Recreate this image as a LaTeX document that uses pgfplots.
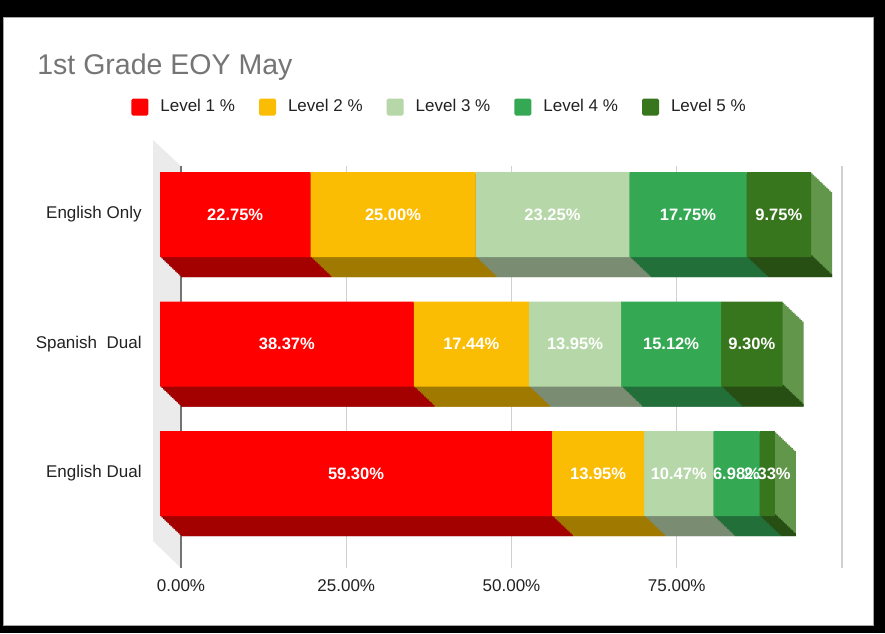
\documentclass[border=0pt]{standalone}
\usepackage{fontspec}
\setmainfont{Liberation Sans}
\usepackage{pgfplots}
\usepackage{pgfplotstable}
\pgfplotsset{compat=1.18}

\definecolor{cA}{HTML}{FF0000}
\definecolor{cB}{HTML}{FBBC04}
\definecolor{cC}{HTML}{B6D7A8}
\definecolor{cD}{HTML}{34A853}
\definecolor{cE}{HTML}{38761D}
\definecolor{dA}{HTML}{A30000}
\definecolor{dB}{HTML}{A07900}
\definecolor{dC}{HTML}{7A8C72}
\definecolor{dD}{HTML}{236F3A}
\definecolor{dE}{HTML}{274E13}
\definecolor{sE}{HTML}{62964A}
\definecolor{titlegray}{HTML}{757575}
\definecolor{txt}{HTML}{222222}
\definecolor{wall}{HTML}{EBEBEB}

% rows: 0 = English Dual, 1 = Spanish Dual, 2 = English Only
\pgfplotstableread{
pos l1 l2 l3 l4 l5
0 59.30 13.95 10.47 6.98 2.33
1 38.37 17.44 13.95 15.12 9.30
2 22.75 25.00 23.25 17.75 9.75
}\levels

\pgfplotsset{
  barbase/.style={
    scale only axis, width=330.5pt, height=194.25pt,
    xmin=0, xmax=100, ymin=-0.5, ymax=2.5,
    xbar stacked, bar width=42.5pt, anchor=south west,
  },
  depthaxis/.style={barbase, hide axis},
}

\begin{document}
\begin{tikzpicture}
% frame
\fill[black] (0,0) rectangle (442.5pt,-316.5pt);
\filldraw[fill=white, draw=gray!70, line width=0.5pt] (1.5pt,-8.5pt) rectangle (436.5pt,-312.5pt);
% title
\node[anchor=base west, inner sep=0pt, text=titlegray, font=\fontsize{14.25}{16}\selectfont] at (18.5pt,-37pt) {1st Grade EOY May};
% wall
\fill[wall] (76.5pt,-70pt) -- (90.5pt,-83pt) -- (90.5pt,-284pt) -- (76.5pt,-270.5pt) -- cycle;

% grid (back plane)
\begin{axis}[scale only axis, width=330.5pt, height=201pt, at={(90.5pt,-284pt)}, anchor=south west,
  xmin=0, xmax=100, ymin=0, ymax=1,
  axis line style={draw=none}, major tick length=0pt,
  ytick=\empty, xtick={25,50,75,100},
  xticklabels={25.00\%,50.00\%,75.00\%,{}},
  extra x ticks={0}, extra x tick labels={0.00\%},
  xmajorgrids, grid style={draw=black!18, line width=0.6pt},
  extra x tick style={grid style={draw=black!55, line width=0.8pt}},
  xticklabel style={font=\fontsize{8.5}{10}\selectfont, text=txt, anchor=north, inner sep=0pt, yshift=-5.5pt},
]
\end{axis}

% depth: side/bottom sweep
\foreach \k in {14,13,...,1}{
  \begin{axis}[depthaxis, at={({(80+0.75*\k)*1pt},{(-269.125-0.71429*\k)*1pt})}]
    \addplot[fill=dA, draw=none] table[x=l1,y=pos]{\levels};
    \addplot[fill=dB, draw=none] table[x=l2,y=pos]{\levels};
    \addplot[fill=dC, draw=none] table[x=l3,y=pos]{\levels};
    \addplot[fill=dD, draw=none] table[x=l4,y=pos]{\levels};
    \addplot[fill=sE, draw=none] table[x=l5,y=pos]{\levels};
  \end{axis}
}
% depth: bottom faces
\foreach \k in {14,13,...,1}{
  \begin{axis}[depthaxis, at={({(80+0.75*\k)*1pt},{(-269.125-0.71429*\k)*1pt})}]
    \addplot[fill=dA, draw=none, bar width=1.5pt, bar shift=-20.5pt] table[x=l1,y=pos]{\levels};
    \addplot[fill=dB, draw=none, bar width=1.5pt, bar shift=-20.5pt] table[x=l2,y=pos]{\levels};
    \addplot[fill=dC, draw=none, bar width=1.5pt, bar shift=-20.5pt] table[x=l3,y=pos]{\levels};
    \addplot[fill=dD, draw=none, bar width=1.5pt, bar shift=-20.5pt] table[x=l4,y=pos]{\levels};
    \addplot[fill=dE, draw=none, bar width=1.5pt, bar shift=-20.5pt] table[x=l5,y=pos]{\levels};
  \end{axis}
}

% front faces
\begin{axis}[barbase, at={(80pt,-269.125pt)},
  axis line style={draw=none}, major tick length=0pt,
  xtick=\empty, ytick={0,1,2},
  yticklabels={English Dual, Spanish\ \ Dual, English Only},
  yticklabel style={font=\fontsize{8.5}{10}\selectfont, text=txt, anchor=east, inner sep=0pt, xshift=-9pt},
  point meta=explicit,
  nodes near coords={\pgfmathprintnumber[fixed,fixed zerofill,precision=2,assume math mode=true]{\pgfplotspointmeta}\%},
  every node near coord/.style={anchor=center, text=white, font=\bfseries\fontsize{8.25}{10}\selectfont},
  legend columns=5, legend cell align=left,
  legend image code/.code={\fill[#1, draw=none, rounded corners=0.8pt] (0pt,-4.25pt) rectangle (8.5pt,4.25pt);},
  legend style={draw=none, fill=none, at={(-0.0439,1.110)}, anchor=west, inner sep=0pt,
    font=\fontsize{8.5}{10}\selectfont, text=txt,
    /tikz/every odd column/.append style={column sep=6pt},
    /tikz/every even column/.append style={column sep=12pt},
    nodes={inner sep=0pt}},
]
\addplot[fill=cA, draw=none] table[x=l1, y=pos, meta=l1]{\levels};
\addplot[fill=cB, draw=none] table[x=l2, y=pos, meta=l2]{\levels};
\addplot[fill=cC, draw=none] table[x=l3, y=pos, meta=l3]{\levels};
\addplot[fill=cD, draw=none] table[x=l4, y=pos, meta=l4]{\levels};
\addplot[fill=cE, draw=none] table[x=l5, y=pos, meta=l5]{\levels};
\legend{Level 1 \%, Level 2 \%, Level 3 \%, Level 4 \%, Level 5 \%}
\end{axis}

\pgfresetboundingbox
\useasboundingbox (0,0) rectangle (442.5pt,-316.5pt);
\end{tikzpicture}
\end{document}
